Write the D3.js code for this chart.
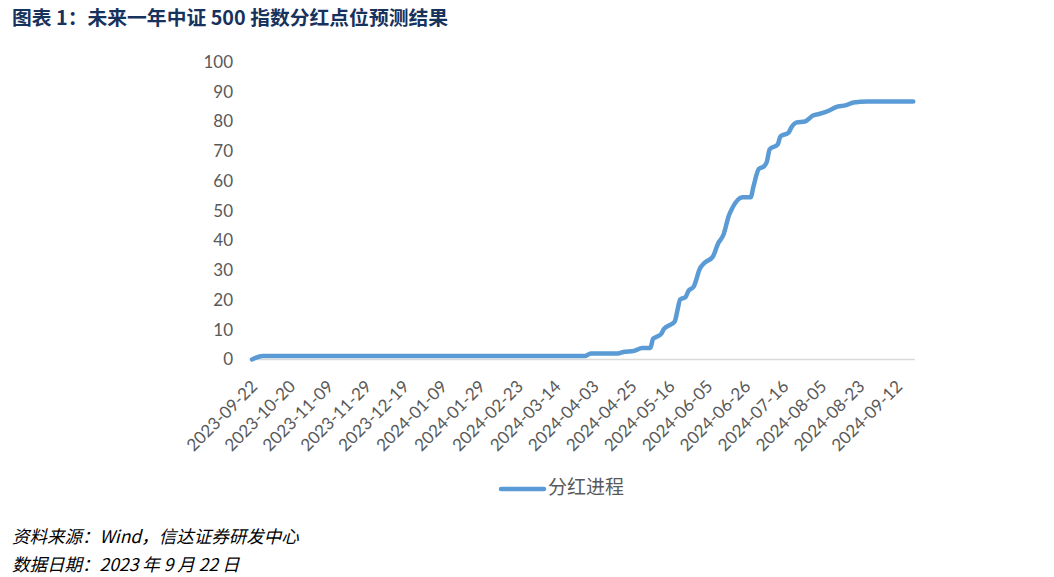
<!DOCTYPE html>
<html>
<head>
<meta charset="utf-8">
<script src="https://cdn.jsdelivr.net/npm/d3@7"></script>
<style>
  html, body { margin: 0; padding: 0; background: #fff; }
  svg { display: block; }
</style>
</head>
<body>
<svg id="chart" width="1054" height="577"></svg>
<script>
// ---- data ----
const title = "图表 1：未来一年中证 500 指数分红点位预测结果";
const seriesName = "分红进程";
const sourceText = "资料来源：Wind，信达证券研发中心";
const dateText = "数据日期：2023 年 9 月 22 日";

// tick labels shown every 14 trading days on the category axis
const tickLabels = ["2023-09-22","2023-10-20","2023-11-09","2023-11-29","2023-12-19",
  "2024-01-09","2024-01-29","2024-02-23","2024-03-14","2024-04-03","2024-04-25",
  "2024-05-16","2024-06-05","2024-06-26","2024-07-16","2024-08-05","2024-08-23","2024-09-12"];
const tickStep = 14;
const categoryCount = 245;

// points: trading-day index and dividend points
const pointIndex = [0, 4, 123, 125, 135, 137, 141, 144, 147, 148, 149, 151, 152, 155, 156, 157, 158,
  160, 161, 163, 164, 165, 167, 170, 172, 174, 176, 177, 181, 184, 185, 187, 189, 190, 191,
  194, 195, 198, 199, 201, 204, 207, 210, 213, 216, 219, 222, 227, 244];
const pointValue = [0, 1.2, 1.2, 2.0, 2.0, 2.5, 2.9, 3.9, 3.9, 7.0, 7.5, 8.6, 10.3, 12.0, 12.8, 16.6, 20.2,
  21.0, 23.0, 24.5, 27.0, 30.0, 32.5, 34.5, 39.0, 42.0, 48.5, 50.5, 54.5, 54.5, 58.0, 64.0, 65.0, 66.5, 70.6,
  72.3, 75.0, 76.3, 78.0, 79.7, 80.0, 82.0, 82.7, 83.7, 85.0, 85.4, 86.4, 86.7, 86.7];
const yTicks = [0, 10, 20, 30, 40, 50, 60, 70, 80, 90, 100];

// ---- drawing ----
const svg = d3.select("#chart");
const x = d3.scaleLinear().domain([0, 238]).range([252, 897]);
const y = d3.scaleLinear().domain([0, 100]).range([359.5, 62]);

const labelFont = "Lato, 'Open Sans', sans-serif";

// title
svg.append("text")
  .attr("x", 12).attr("y", 25)
  .attr("font-family", "'Noto Sans CJK SC', sans-serif")
  .attr("font-weight", "bold")
  .attr("font-size", 19.8)
  .attr("fill", "#17325c")
  .text(title);

// y axis labels
const yAxis = d3.axisLeft(y).tickValues(yTicks).tickSize(0).tickPadding(0);
const gy = svg.append("g").attr("transform", "translate(233,0)").call(yAxis);
gy.select(".domain").remove();
gy.selectAll("text")
  .attr("font-family", labelFont)
  .attr("font-size", 17)
  .attr("fill", "#595959");

// x axis line
svg.append("line")
  .attr("x1", x(-0.6)).attr("x2", x(categoryCount - 0.4))
  .attr("y1", y(0)).attr("y2", y(0))
  .attr("stroke", "#d9d9d9").attr("stroke-width", 1.3);

// x tick labels
const tickIdx = tickLabels.map((d, i) => i * tickStep);
const xAxis = d3.axisBottom(x).tickValues(tickIdx)
  .tickFormat((d, i) => tickLabels[i]).tickSize(0);
const gx = svg.append("g").attr("transform", `translate(0,${y(0)})`).call(xAxis);
gx.select(".domain").remove();
gx.selectAll("text")
  .attr("font-family", labelFont)
  .attr("font-size", 17)
  .attr("fill", "#595959")
  .attr("text-anchor", "end")
  .attr("dy", null).attr("y", null)
  .attr("transform", "translate(3,25) rotate(-45)")
  .attr("dominant-baseline", "middle");

// line
const pts = pointIndex.map((d, i) => [d, pointValue[i]]);
const line = d3.line().x(d => x(d[0])).y(d => y(d[1])).curve(d3.curveMonotoneX);
svg.append("path")
  .datum(pts)
  .attr("d", line)
  .attr("fill", "none")
  .attr("stroke", "#5b9bd5")
  .attr("stroke-width", 4.5)
  .attr("stroke-linejoin", "round")
  .attr("stroke-linecap", "round");

// legend
svg.append("line")
  .attr("x1", 501).attr("x2", 544).attr("y1", 489).attr("y2", 489)
  .attr("stroke", "#5b9bd5").attr("stroke-width", 4.5).attr("stroke-linecap", "round");
svg.append("text")
  .attr("x", 548).attr("y", 489).attr("dominant-baseline", "middle")
  .attr("font-family", "'Noto Sans CJK SC', sans-serif")
  .attr("font-size", 19)
  .attr("fill", "#595959")
  .text(seriesName);

// footer
svg.append("text")
  .attr("x", 12).attr("y", 543)
  .attr("font-family", "'Noto Sans CJK SC', sans-serif")
  .attr("font-style", "italic")
  .attr("font-size", 17.5)
  .attr("fill", "#000")
  .text(sourceText);
svg.append("text")
  .attr("x", 12).attr("y", 571)
  .attr("font-family", "'Noto Sans CJK SC', sans-serif")
  .attr("font-style", "italic")
  .attr("font-size", 17.5)
  .attr("fill", "#000")
  .text(dateText);
</script>
</body>
</html>
